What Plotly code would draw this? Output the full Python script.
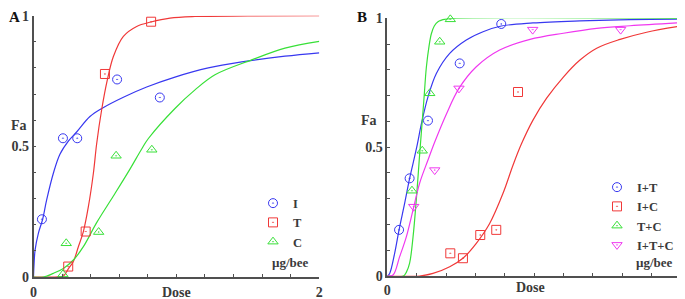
import plotly.graph_objects as go

# ---------------- Panel A data ----------------
a_I_dose = [0.059, 0.206, 0.306, 0.585, 0.884]
a_I_fa = [0.221, 0.531, 0.531, 0.756, 0.687]
a_T_dose = [0.243, 0.365, 0.500, 0.823]
a_T_fa = [0.040, 0.174, 0.777, 0.977]
a_C_dose = [0.206, 0.229, 0.456, 0.578, 0.828]
a_C_fa = [0.010, 0.129, 0.172, 0.464, 0.487]

a_I_curve_x = [0.0, 0.004, 0.011, 0.034, 0.064, 0.092, 0.139, 0.185, 0.244, 0.302, 0.395, 0.481,
               0.629, 0.792, 0.99, 1.223, 1.457, 1.76, 2.0]
a_I_curve_y = [0.0, 0.05, 0.103, 0.167, 0.221, 0.295, 0.397, 0.47, 0.52, 0.555, 0.614, 0.646,
               0.688, 0.727, 0.765, 0.800, 0.823, 0.845, 0.858]
a_T_curve_x = [0.0, 0.15, 0.209, 0.246, 0.279, 0.314, 0.349, 0.384, 0.419, 0.442, 0.477, 0.517,
               0.559, 0.629, 0.722, 0.822, 0.955, 1.13, 1.5, 2.0]
a_T_curve_y = [0.0, 0.0, 0.004, 0.033, 0.059, 0.116, 0.174, 0.269, 0.397, 0.51, 0.64, 0.755,
               0.844, 0.921, 0.959, 0.976, 0.991, 0.997, 0.999, 1.0]
a_C_curve_x = [0.0, 0.069, 0.139, 0.209, 0.279, 0.349, 0.442, 0.559, 0.675, 0.757, 0.804, 0.99,
               1.13, 1.27, 1.527, 1.76, 2.0]
a_C_curve_y = [0.0, 0.0, 0.014, 0.033, 0.065, 0.116, 0.208, 0.310, 0.413, 0.49, 0.53, 0.645,
               0.716, 0.774, 0.831, 0.876, 0.902]

# ---------------- Panel B data ----------------
b_IT_dose = [0.080, 0.152, 0.277, 0.493, 0.776]
b_IT_fa = [0.179, 0.379, 0.603, 0.825, 0.978]
b_IC_dose = [0.429, 0.515, 0.633, 0.742, 0.890]
b_IC_fa = [0.088, 0.069, 0.159, 0.179, 0.714]
b_TC_dose = [0.168, 0.238, 0.289, 0.357, 0.429]
b_TC_fa = [0.331, 0.486, 0.709, 0.909, 0.996]
b_ITC_dose = [0.180, 0.323, 0.488, 0.990, 1.589]
b_ITC_fa = [0.269, 0.411, 0.728, 0.956, 0.956]

b_IT_curve_x = [0.0, 0.016, 0.05, 0.08, 0.118, 0.152, 0.186, 0.204, 0.232, 0.277, 0.334, 0.425,
                0.538, 0.652, 0.776, 0.992, 1.312, 1.653, 2.0]
b_IT_curve_y = [0.0, 0.01, 0.088, 0.179, 0.282, 0.379, 0.463, 0.51, 0.59, 0.695, 0.786, 0.864,
                0.916, 0.948, 0.97, 0.982, 0.99, 0.995, 0.997]
b_IC_curve_x = [0.0, 0.22, 0.311, 0.425, 0.515, 0.606, 0.697, 0.788, 0.856, 0.913, 0.992, 1.085,
                1.199, 1.312, 1.426, 1.585, 1.766, 2.0]
b_IC_curve_y = [0.0, 0.0, 0.010, 0.036, 0.069, 0.127, 0.204, 0.321, 0.43, 0.512, 0.605, 0.69,
                0.772, 0.838, 0.884, 0.918, 0.946, 0.970]
b_TC_curve_x = [0.0, 0.11, 0.13, 0.152, 0.175, 0.198, 0.22, 0.235, 0.25, 0.266, 0.285, 0.30,
                0.32, 0.345, 0.40, 0.45, 2.0]
b_TC_curve_y = [0.0, 0.0, 0.015, 0.05, 0.15, 0.30, 0.47, 0.58, 0.69, 0.81, 0.895, 0.94,
                0.97, 0.987, 0.997, 1.0, 1.0]
b_ITC_curve_x = [0.0, 0.039, 0.084, 0.13, 0.175, 0.22, 0.277, 0.323, 0.402, 0.488, 0.606, 0.765,
                 0.972, 1.199, 1.426, 1.653, 2.0]
b_ITC_curve_y = [0.0, 0.004, 0.075, 0.153, 0.256, 0.360, 0.450, 0.52, 0.628, 0.728, 0.812, 0.877,
                 0.918, 0.942, 0.961, 0.971, 0.983]

y_tick_vals = [0.0, 0.1, 0.2, 0.3, 0.4, 0.5, 0.6, 0.7, 0.8, 0.9, 1.0]
y_tick_text = ["0", "", "", "", "", "0.5", "", "", "", "", "1"]
x_tick_vals = [0.0, 0.2, 0.4, 0.6, 0.8, 1.0, 1.2, 1.4, 1.6, 1.8, 2.0]
x_tick_text = ["0", "", "", "", "", "", "", "", "", "", "2"]

BLUE = "#3838f0"
RED = "#f03838"
GREEN = "#38e038"
MAGENTA = "#f038f0"
TXT = "#3a3a3a"
AX = "#505050"
FONT = "Liberation Serif"

fig = go.Figure()


def curve(x, y, color, xa, ya):
    fig.add_trace(go.Scatter(x=x, y=y, mode="lines", xaxis=xa, yaxis=ya,
                             line=dict(color=color, width=1.2, shape="spline", smoothing=1.0),
                             showlegend=False, hoverinfo="skip"))


def pts(x, y, color, symbol, name, xa, ya, legend):
    fig.add_trace(go.Scatter(x=x, y=y, mode="markers", xaxis=xa, yaxis=ya, name=name,
                             legend=legend, cliponaxis=False,
                             marker=dict(symbol=symbol, size=9, color=color,
                                         line=dict(color=color, width=1))))


curve(a_I_curve_x, a_I_curve_y, BLUE, "x", "y")
curve(a_T_curve_x, a_T_curve_y, RED, "x", "y")
curve(a_C_curve_x, a_C_curve_y, GREEN, "x", "y")
pts(a_I_dose, a_I_fa, BLUE, "circle-open-dot", "I", "x", "y", "legend")
pts(a_T_dose, a_T_fa, RED, "square-open-dot", "T", "x", "y", "legend")
pts(a_C_dose, a_C_fa, GREEN, "triangle-up-open-dot", "C", "x", "y", "legend")

curve(b_IT_curve_x, b_IT_curve_y, BLUE, "x2", "y2")
curve(b_IC_curve_x, b_IC_curve_y, RED, "x2", "y2")
curve(b_TC_curve_x, b_TC_curve_y, GREEN, "x2", "y2")
curve(b_ITC_curve_x, b_ITC_curve_y, MAGENTA, "x2", "y2")
pts(b_IT_dose, b_IT_fa, BLUE, "circle-open-dot", "I+T", "x2", "y2", "legend2")
pts(b_IC_dose, b_IC_fa, RED, "square-open-dot", "I+C", "x2", "y2", "legend2")
pts(b_TC_dose, b_TC_fa, GREEN, "triangle-up-open-dot", "T+C", "x2", "y2", "legend2")
pts(b_ITC_dose, b_ITC_fa, MAGENTA, "triangle-down-open-dot", "I+T+C", "x2", "y2", "legend2")

# The page body has an 8px margin, so the figure starts 8px right/down of the window corner.
OFF = 8
W, H = 685 - OFF, 299 - OFF


def px(v):
    return (v - OFF) / W


def py(v):
    return (H - (v - OFF)) / H


tickfont = dict(family=FONT, size=14, color=TXT, weight="bold")
xax = dict(range=[0, 2], showgrid=False, zeroline=False, showline=True, linecolor=AX, linewidth=1.5,
           ticks="inside", ticklen=3, tickwidth=1, tickcolor=AX, tickvals=x_tick_vals,
           ticktext=x_tick_text, tickfont=tickfont, fixedrange=True, automargin=False,
           ticklabelstandoff=1)
yax = dict(range=[0, 1], showgrid=False, zeroline=False, showline=True, linecolor=AX, linewidth=1.5,
           ticks="inside", ticklen=3, tickwidth=1, tickcolor=AX, tickvals=y_tick_vals,
           ticktext=y_tick_text, tickfont=tickfont, fixedrange=True, automargin=False)

legfont = dict(family=FONT, size=12.5, color=TXT, weight="bold")

fig.update_layout(
    width=W, height=H, margin=dict(l=0, r=0, t=0, b=0, autoexpand=False),
    paper_bgcolor="white", plot_bgcolor="white",
    xaxis=dict(xax, domain=[px(33.5), px(319.3)], anchor="y"),
    yaxis=dict(yax, domain=[py(277), py(15.7)], anchor="x"),
    xaxis2=dict(xax, domain=[px(387.3), px(681)], anchor="y2", ticklabelstandoff=0),
    yaxis2=dict(yax, domain=[py(276), py(18.3)], anchor="x2"),
    legend=dict(x=px(253), y=py(188.5), xanchor="left", yanchor="top", font=legfont,
                bgcolor="rgba(0,0,0,0)", borderwidth=0, tracegroupgap=0),
    legend2=dict(x=px(597), y=py(172.5), xanchor="left", yanchor="top", font=legfont,
                 bgcolor="rgba(0,0,0,0)", borderwidth=0, tracegroupgap=0),
    showlegend=True,
)

annos = [
    ("A", 0.0, 1.0, "left", "top", 15),
    ("B", px(361.7), 1.0, "center", "top", 15),
    ("Fa", px(19.3), py(125), "center", "middle", 14),
    ("Fa", px(369), py(120.7), "center", "middle", 14),
    ("\u00b5g/bee", px(290), py(262.3), "center", "middle", 13),
    ("\u00b5g/bee", px(654.7), py(262.7), "center", "middle", 13),
    ("Dose", px(176.8), py(292.2), "center", "middle", 14),
    ("Dose", px(530.3), py(287.7), "center", "middle", 14),
]
for text, x, y, xa, ya, size in annos:
    fig.add_annotation(text=text, x=x, y=y, xref="paper", yref="paper", xanchor=xa,
                       yanchor=ya, showarrow=False, borderpad=0,
                       font=dict(family=FONT, size=size, color="#111" if text in ("A", "B") else TXT,
                                 weight="bold"))

fig.write_html("out.html")
